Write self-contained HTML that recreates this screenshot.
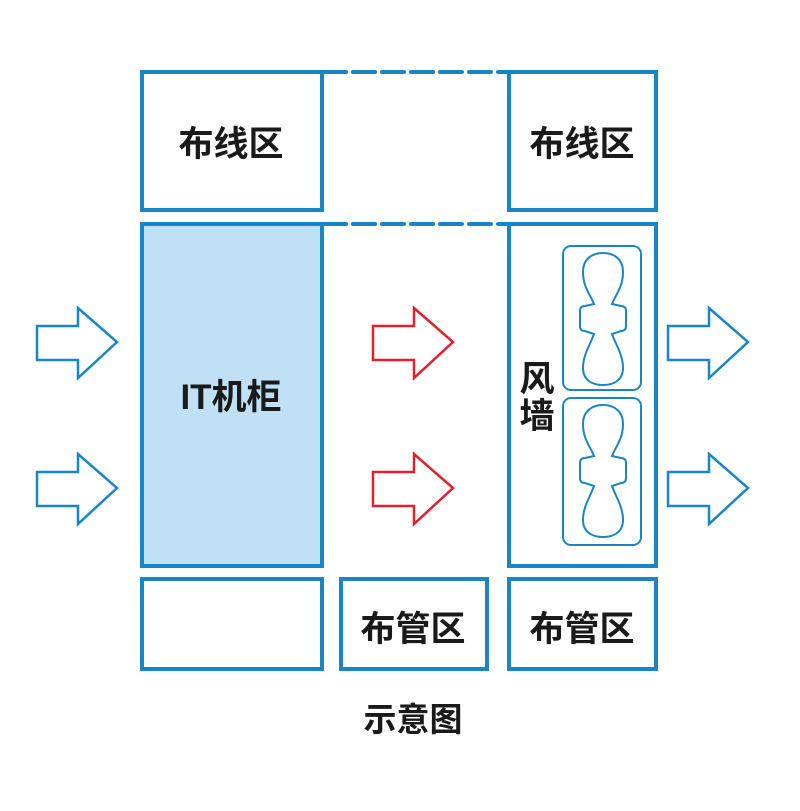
<!DOCTYPE html>
<html><head><meta charset="utf-8"><style>
html,body{margin:0;padding:0;background:#fff;}
svg{display:block}
text{font-family:"Liberation Sans","Noto Sans CJK SC",sans-serif;fill:#1a1a1a;font-weight:bold;}
</style></head><body>
<svg width="800" height="811" viewBox="0 0 800 811" xmlns="http://www.w3.org/2000/svg">
<defs>
<path id="fan" d="M594 304 C590 294,583 287,583 272 C583 259,592 253,603 253 C614 253,623 259,623 272 C623 287,616 294,612 304 L621 306 Q626 306 626 311 L626 326 Q626 331 621 331 L612 334 C616 345,623 355,623 368 C623 380,614 385,603 385 C592 385,583 380,583 368 C583 355,590 345,594 334 L585 331 Q580 331 580 326 L580 311 Q580 306 585 306 Z" fill="none" stroke="#1a85c4" stroke-width="2"/>
<path id="arr" d="M0 0 L41 0 L41 -18 L80 16 L41 52 L41 34 L0 34 Z" stroke-width="2.5" fill="none" stroke-linejoin="miter"/>
</defs>
<g fill="none" stroke="#1a85c4" stroke-width="4">
<rect x="142" y="72" width="180" height="138"/>
<rect x="509" y="72" width="147" height="138"/>
<rect x="142" y="224" width="180" height="342" fill="#bfe0f5"/>
<rect x="509" y="224" width="147" height="342"/>
<rect x="142" y="579" width="180" height="90"/>
<rect x="341" y="579" width="146" height="90"/>
<rect x="509" y="579" width="147" height="90"/>
<line x1="324" y1="72" x2="507" y2="72" stroke-dasharray="22 7" stroke-linecap="round"/>
<line x1="324" y1="224" x2="507" y2="224" stroke-dasharray="22 7" stroke-linecap="round"/>
</g>
<g fill="none" stroke="#1a85c4" stroke-width="2">
<rect x="563" y="246" width="78" height="144" rx="8"/>
<rect x="563" y="398" width="78" height="147" rx="8"/>
</g>
<use href="#fan"/>
<use href="#fan" transform="translate(0,152)"/>
<g stroke="#1a85c4">
<use href="#arr" transform="translate(37,326)"/>
<use href="#arr" transform="translate(37,472)"/>
<use href="#arr" transform="translate(668,326)"/>
<use href="#arr" transform="translate(668,472)"/>
</g>
<g stroke="#e0202a">
<use href="#arr" transform="translate(373,326)"/>
<use href="#arr" transform="translate(373,472)"/>
</g>
<g font-size="35" text-anchor="middle">
<text x="231" y="156">布线区</text>
<text x="582" y="156">布线区</text>
<text x="231" y="409">IT机柜</text>
<text x="413" y="641">布管区</text>
<text x="582" y="641">布管区</text>
<text x="537" y="391">风</text>
<text x="537" y="428">墙</text>
<text x="413" y="731" font-size="33">示意图</text>
</g>
</svg>
</body></html>
